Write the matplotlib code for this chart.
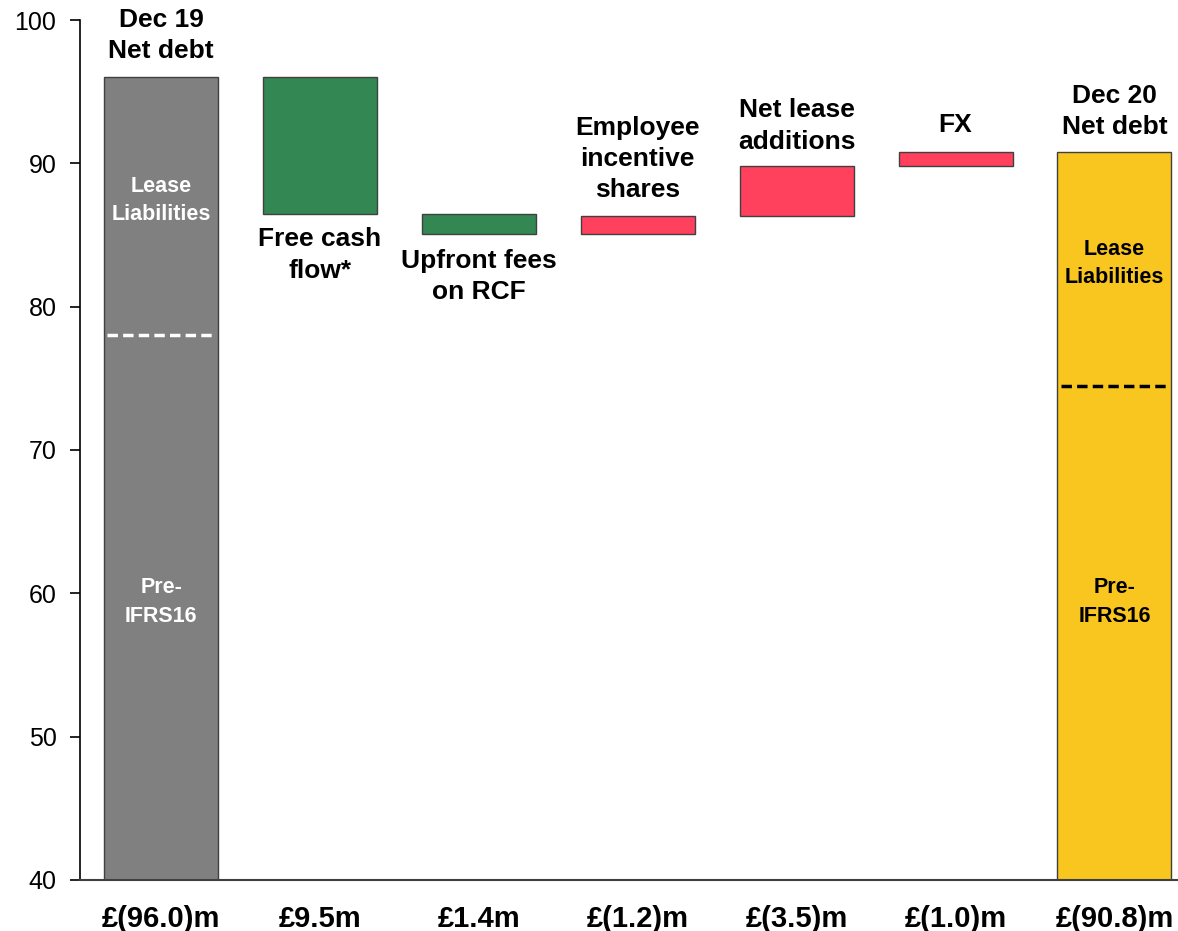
import numpy as np
import matplotlib.pyplot as plt

plt.rcParams['font.family'] = ['Liberation Sans', 'DejaVu Sans']

# data
categories = ['Dec 19\nNet debt', 'Free cash\nflow*', 'Upfront fees\non RCF',
              'Employee\nincentive\nshares', 'Net lease\nadditions', 'FX',
              'Dec 20\nNet debt']
value_labels = ['£(96.0)m', '£9.5m', '£1.4m', '£(1.2)m', '£(3.5)m', '£(1.0)m', '£(90.8)m']
start_total = 96.0
changes = [-9.5, -1.4, 1.2, 3.5, 1.0]
end_total = 90.8
pre_ifrs16 = [78.0, 74.5]  # start, end split lines

# waterfall bottoms / heights
bottoms = [0]
heights = [start_total]
level = start_total
for c in changes:
    bottoms.append(min(level, level + c))
    heights.append(abs(c))
    level += c
bottoms.append(0)
heights.append(end_total)

colors = ['#808080'] + ['#338753' if c < 0 else '#FF415E' for c in changes] + ['#F8C61F']

fig = plt.figure(figsize=(11.78, 9.31), dpi=100)
ax = fig.add_axes([0.068, 0.0548, 0.932, 0.9237])

x = np.arange(len(categories))
w = 0.717
ax.bar(x, heights, w, bottom=bottoms, color=colors, edgecolor='#404040', linewidth=1)

ax.set_ylim(40, 100)
ax.set_xlim(-0.51, 6.4)
ax.set_yticks(np.arange(40, 101, 10))
ax.tick_params(axis='y', labelsize=18, length=7, width=1.2, direction='out', pad=10)
ax.set_xticks(x)
ax.set_xticklabels(value_labels, fontsize=21, fontweight='bold')
ax.tick_params(axis='x', length=0, pad=18)
for s in ['top', 'right']:
    ax.spines[s].set_visible(False)
ax.spines['left'].set_linewidth(1.2)
ax.spines['bottom'].set_linewidth(1.5)
ax.spines['bottom'].set_color('#404040')

# category labels
label_y = [98.9, 83.6, 82.1, 90.3, 92.6, 92.7, 93.6]
for xi, lab, ly in zip(x, categories, label_y):
    ax.text(xi, ly, lab, ha='center', va='center', fontsize=19, fontweight='bold',
            linespacing=1.38)

# split lines in total bars
ax.plot([x[0] - w / 2 + 0.02, x[0] + w / 2 - 0.02], [pre_ifrs16[0]] * 2,
        color='white', ls=(0, (3, 1.5)), lw=2.5)
ax.plot([x[-1] - w / 2 + 0.02, x[-1] + w / 2 - 0.02], [pre_ifrs16[1]] * 2,
        color='black', ls=(0, (3, 1.5)), lw=2.5)

ax.text(x[0], 87.4, 'Lease\nLiabilities', ha='center', va='center', fontsize=15.5,
        fontweight='bold', color='white', linespacing=1.45)
ax.text(x[0], 59.4, 'Pre-\nIFRS16', ha='center', va='center', fontsize=15.5,
        fontweight='bold', color='white', linespacing=1.45)
ax.text(x[-1], 83.0, 'Lease\nLiabilities', ha='center', va='center', fontsize=15.5,
        fontweight='bold', color='black', linespacing=1.45)
ax.text(x[-1], 59.4, 'Pre-\nIFRS16', ha='center', va='center', fontsize=15.5,
        fontweight='bold', color='black', linespacing=1.45)

fig.savefig('out.png', dpi=100)
